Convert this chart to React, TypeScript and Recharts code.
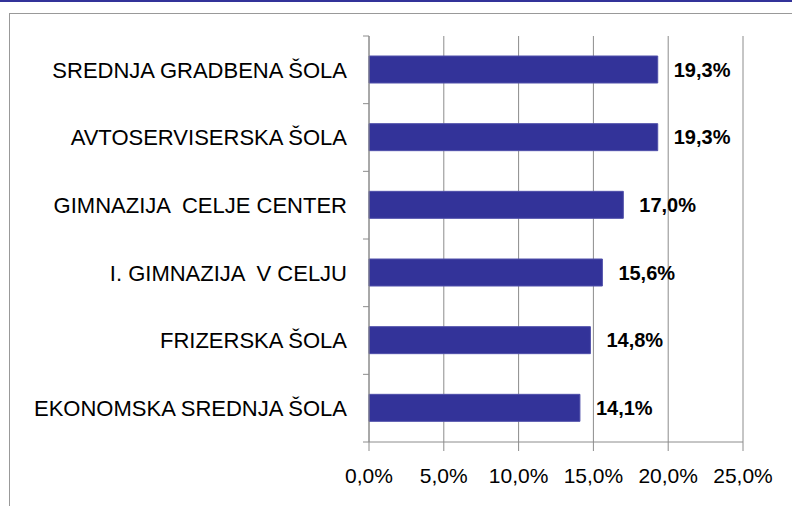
import { Bar, BarChart, CartesianGrid, LabelList, XAxis, YAxis } from "recharts"

const schools = [
  "SREDNJA GRADBENA ŠOLA",
  "AVTOSERVISERSKA ŠOLA",
  "GIMNAZIJA  CELJE CENTER",
  "I. GIMNAZIJA  V CELJU",
  "FRIZERSKA ŠOLA",
  "EKONOMSKA SREDNJA ŠOLA",
]
const shares = [19.3, 19.3, 17.0, 15.6, 14.8, 14.1]
const xTicks = [0, 5, 10, 15, 20, 25]

const data = schools.map((name, i) => ({ name, value: shares[i] }))

const FONT = "'Liberation Sans', Arial, sans-serif"
const GRAY = "#8c8c8c"
const PLOT_TOP = 36
const PLOT_BOTTOM = 442
const BAND = (PLOT_BOTTOM - PLOT_TOP) / schools.length

const pct = (v: number) => v.toFixed(1).replace(".", ",") + "%"

function CategoryTick(props: any) {
  const { x, y, payload, index } = props
  return (
    <g>
      <line x1={x - 6} x2={x} y1={y - BAND / 2} y2={y - BAND / 2} stroke={GRAY} />
      {index === schools.length - 1 && (
        <line x1={x - 6} x2={x} y1={y + BAND / 2} y2={y + BAND / 2} stroke={GRAY} />
      )}
      <text
        x={x - 22}
        y={y}
        dy="0.35em"
        textAnchor="end"
        fontSize={22}
        fill="#000"
        fontFamily={FONT}
        style={{ whiteSpace: "pre" }}
      >
        {payload.value}
      </text>
    </g>
  )
}

export default function App() {
  return (
    <div style={{ position: "absolute", left: 0, top: 0, width: 792, height: 506, overflow: "hidden", background: "#fff" }}>
      <div style={{ position: "absolute", left: 0, top: 0, width: 792, height: 2, background: "#333399" }} />
      <div style={{ position: "absolute", left: 9, top: 13, width: 820, height: 600, border: "1px solid #999" }} />
      <BarChart
        width={792}
        height={506}
        data={data}
        layout="vertical"
        margin={{ top: PLOT_TOP, right: 49, left: 0, bottom: 0 }}
        style={{ position: "absolute", left: 0, top: 0, fontFamily: FONT }}
      >
        <CartesianGrid horizontal={false} stroke={GRAY} />
        <XAxis
          type="number"
          domain={[0, 25]}
          ticks={xTicks}
          tickFormatter={pct}
          height={506 - PLOT_BOTTOM}
          axisLine={{ stroke: GRAY }}
          tickLine={{ stroke: GRAY }}
          tickSize={9}
          tickMargin={17}
          tick={{ fill: "#000", fontSize: 21, fontFamily: FONT }}
        />
        <YAxis
          type="category"
          dataKey="name"
          width={369}
          axisLine={{ stroke: GRAY }}
          tickLine={false}
          tickSize={0}
          tickMargin={0}
          tick={<CategoryTick />}
          interval={0}
        />
        <Bar dataKey="value" fill="#333399" stroke="#5050aa" barSize={27} isAnimationActive={false}>
          <LabelList
            dataKey="value"
            position="right"
            offset={16}
            formatter={(v: any) => pct(Number(v))}
            style={{ fill: "#000", fontSize: 20, fontWeight: "bold", fontFamily: FONT }}
          />
        </Bar>
      </BarChart>
    </div>
  )
}
